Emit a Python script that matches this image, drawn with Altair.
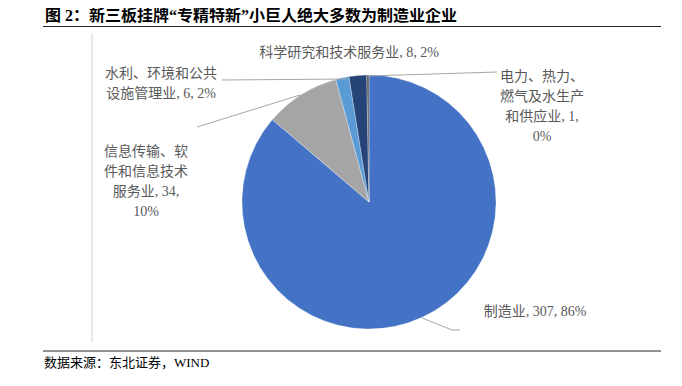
import altair as alt
import pandas as pd

# ---- data ----
categories = ["制造业", "信息传输、软件和信息技术服务业", "水利、环境和公共设施管理业",
              "科学研究和技术服务业", "电力、热力、燃气及水生产和供应业"]
values = [307, 34, 6, 8, 1]
shares = ["86%", "10%", "2%", "2%", "0%"]
colors = ["#4472C4", "#A5A5A5", "#5B9BD5", "#264478", "#5A5A5A"]
label_texts = [
    "制造业, 307, 86%",
    "信息传输、软\n件和信息技术\n服务业, 34,\n10%",
    "水利、环境和公共\n设施管理业, 6, 2%",
    "科学研究和技术服务业, 8, 2%",
    "电力、热力、\n燃气及水生产\n和供应业, 1,\n0%",
]
title_text = "图 2：新三板挂牌“专精特新”小巨人绝大多数为制造业企业"
source_text = "数据来源：东北证券，WIND"

# ---- layout (pixels) ----
W, H = 666, 366
CX, CY, R = 361, 194, 127
label_x = [527, 138, 153, 341, 534]
label_y = [304, 144, 66, 45, 69]
leader_x = [214, 189, 360, 414, 444]
leader_y = [72, 119, 68, 310, 322]
leader_x2 = [339, 292, 489, 444, 452]
leader_y2 = [71, 87, 64, 322, 322]

FONT = "Liberation Serif, Noto Sans CJK SC"

pie_df = pd.DataFrame({"category": categories, "value": values,
                       "order": list(range(len(values)))})
pie = alt.Chart(pie_df).mark_arc(radius=R, stroke="white", strokeWidth=0.3).encode(
    theta=alt.Theta("value:Q", stack=True),
    order=alt.Order("order:Q"),
    color=alt.Color("category:N", scale=alt.Scale(domain=categories, range=colors), legend=None),
    x=alt.value(CX), y=alt.value(CY),
)

lead_df = pd.DataFrame({"x": leader_x, "y": leader_y, "x2": leader_x2, "y2": leader_y2})
leaders = alt.Chart(lead_df).mark_rule(color="#A6A6A6", strokeWidth=1).encode(
    x=alt.X("x:Q", scale=None), y=alt.Y("y:Q", scale=None),
    x2="x2:Q", y2="y2:Q",
)

lab_df = pd.DataFrame({"t": label_texts, "x": label_x, "y": label_y})
labels = alt.Chart(lab_df).mark_text(
    font=FONT, fontSize=14, color="#595959", lineBreak="\n", lineHeight=20,
    align="center", baseline="middle",
).encode(x=alt.X("x:Q", scale=None), y=alt.Y("y:Q", scale=None), text="t:N")

frame_df = pd.DataFrame({"x": [35, 35, 84], "y": [18.5, 343, 25],
                         "x2": [653, 653, 84], "y2": [18.5, 343, 334],
                         "c": ["k", "k", "g"]})
frame = alt.Chart(frame_df).mark_rule(strokeWidth=1.2).encode(
    x=alt.X("x:Q", scale=None), y=alt.Y("y:Q", scale=None),
    x2="x2:Q", y2="y2:Q",
    color=alt.Color("c:N", scale=alt.Scale(domain=["k", "g"], range=["#262626", "#D9D9D9"]), legend=None),
)

title = alt.Chart(pd.DataFrame({"t": [title_text]})).mark_text(
    font=FONT, fontSize=16, fontWeight="bold", color="#000000", align="left", baseline="middle",
).encode(x=alt.value(37), y=alt.value(8), text="t:N")

source = alt.Chart(pd.DataFrame({"t": [source_text]})).mark_text(
    font=FONT, fontSize=13, color="#000000", align="left", baseline="middle",
).encode(x=alt.value(36), y=alt.value(355), text="t:N")

chart = alt.layer(pie, leaders, frame, labels, title, source).properties(
    width=W, height=H, autosize=alt.AutoSizeParams(type="none"), padding=0,
).configure_view(stroke=None).resolve_scale(color="independent")

chart.save("out.html", embed_options={"renderer": "svg", "actions": False})
